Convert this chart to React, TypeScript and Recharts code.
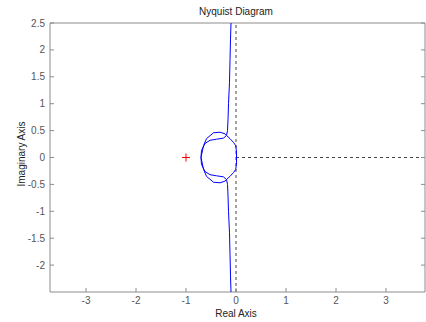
import React from 'react';
import {
  ScatterChart,
  Scatter,
  XAxis,
  YAxis,
  ReferenceLine,
} from 'recharts';

const realTicks = [-3, -2, -1, 0, 1, 2, 3];
const imagTicks = [-2, -1.5, -1, -0.5, 0, 0.5, 1, 1.5, 2, 2.5];

const topBranchRe = [-0.1, -0.11, -0.12, -0.13, -0.15, -0.16, -0.17, -0.19];
const topBranchIm = [2.5, 2.2, 1.8, 1.4, 1.0, 0.7, 0.5, 0.41];
const bottomBranchRe = [-0.1, -0.11, -0.12, -0.13, -0.15, -0.16, -0.17, -0.19];
const bottomBranchIm = [-2.5, -2.2, -1.8, -1.4, -1.0, -0.7, -0.5, -0.41];

const rightSegRe = [-0.19, -0.12, -0.05, -0.005, 0.01, 0.01, -0.005, -0.05, -0.12, -0.19];
const rightSegIm = [0.41, 0.35, 0.28, 0.22, 0.1, -0.1, -0.22, -0.28, -0.35, -0.41];

const upperOuterRe = [-0.19, -0.22, -0.32, -0.45, -0.59, -0.65, -0.7];
const upperOuterIm = [0.41, 0.44, 0.47, 0.46, 0.35, 0.22, 0];
const upperInnerRe = [-0.7, -0.69, -0.62, -0.52, -0.39, -0.25, -0.19];
const upperInnerIm = [0, 0.13, 0.26, 0.32, 0.34, 0.36, 0.41];

const lowerOuterRe = [-0.19, -0.22, -0.32, -0.45, -0.59, -0.65, -0.7];
const lowerOuterIm = [-0.41, -0.44, -0.47, -0.46, -0.35, -0.22, 0];
const lowerInnerRe = [-0.7, -0.69, -0.62, -0.52, -0.39, -0.25, -0.19];
const lowerInnerIm = [0, -0.13, -0.26, -0.32, -0.34, -0.36, -0.41];

const criticalRe = [-1];
const criticalIm = [0];

const toPts = (re: number[], im: number[]) => re.map((r, i) => ({ re: r, im: im[i] }));

const curves = [
  toPts(topBranchRe, topBranchIm),
  toPts(bottomBranchRe, bottomBranchIm),
  toPts(rightSegRe, rightSegIm),
  toPts(upperOuterRe, upperOuterIm),
  toPts(upperInnerRe, upperInnerIm),
  toPts(lowerOuterRe, lowerOuterIm),
  toPts(lowerInnerRe, lowerInnerIm),
];

const FONT = '"Liberation Sans", Arial, sans-serif';
const FRAME = '#8c8c8c';
const TICK_TXT = '#555';

const BottomTick = (p: any) => (
  <g>
    <line x1={p.x} y1={p.y} x2={p.x} y2={p.y - 4} stroke={FRAME} />
    <text x={p.x} y={p.y + 12} textAnchor="middle" fontSize={10} fontFamily={FONT} fill={TICK_TXT}>
      {p.payload.value}
    </text>
  </g>
);
const LeftTick = (p: any) => (
  <g>
    <line x1={p.x} y1={p.y} x2={p.x + 4} y2={p.y} stroke={FRAME} />
    <text x={p.x - 5} y={p.y + 3.5} textAnchor="end" fontSize={10} fontFamily={FONT} fill={TICK_TXT}>
      {p.payload.value}
    </text>
  </g>
);
const TopTick = (p: any) => <line x1={p.x} y1={p.y} x2={p.x} y2={p.y + 4} stroke={FRAME} />;
const RightTick = (p: any) => <line x1={p.x} y1={p.y} x2={p.x - 4} y2={p.y} stroke={FRAME} />;

const Cross = (p: any) => (
  <g>
    <line x1={p.cx - 4} y1={p.cy} x2={p.cx + 4} y2={p.cy} stroke="#ff0000" />
    <line x1={p.cx} y1={p.cy - 4} x2={p.cx} y2={p.cy + 4} stroke="#ff0000" />
  </g>
);

const xDomain = [-3.72, 3.78];
const yDomain = [-2.5, 2.5];

export default function App() {
  return (
    <div style={{ position: 'absolute', left: 0, top: 0, width: 426, height: 322, background: '#fff', fontFamily: FONT }}>
      <ScatterChart width={426} height={322} margin={{ top: 22, right: 0, bottom: 29, left: 49 }}>
        <XAxis
          dataKey="re"
          type="number"
          domain={xDomain}
          ticks={realTicks}
          allowDataOverflow
          height={1}
          tickSize={0}
          tickMargin={0}
          stroke={FRAME}
          tick={<BottomTick />}
        />
        <XAxis
          xAxisId="top"
          orientation="top"
          type="number"
          domain={xDomain}
          ticks={realTicks}
          allowDataOverflow
          height={1}
          tickSize={0}
          tickMargin={0}
          stroke={FRAME}
          tick={<TopTick />}
        />
        <YAxis
          dataKey="im"
          type="number"
          domain={yDomain}
          ticks={imagTicks}
          allowDataOverflow
          width={1}
          tickSize={0}
          tickMargin={0}
          stroke={FRAME}
          tick={<LeftTick />}
        />
        <YAxis
          yAxisId="right"
          orientation="right"
          type="number"
          domain={yDomain}
          ticks={imagTicks}
          allowDataOverflow
          width={1}
          tickSize={0}
          tickMargin={0}
          stroke={FRAME}
          tick={<RightTick />}
        />
        <ReferenceLine x={0} stroke="#444" strokeDasharray="3 3" />
        <ReferenceLine
          segment={[{ x: 0, y: 0 }, { x: xDomain[1], y: 0 }]}
          stroke="#444"
          strokeDasharray="3 3"
        />
        {curves.map((pts, i) => (
          <Scatter
            key={i}
            data={pts}
            line={{ stroke: '#0000ff', strokeWidth: 1 }}
            lineType="joint"
            shape={() => <g />}
            isAnimationActive={false}
          />
        ))}
        <Scatter data={toPts(criticalRe, criticalIm)} shape={<Cross />} isAnimationActive={false} />
      </ScatterChart>
      <div style={{ position: 'absolute', left: 0, width: 426, top: 6, textAlign: 'center', fontSize: 10, color: '#222', marginLeft: 23 }}>
        Nyquist Diagram
      </div>
      <div style={{ position: 'absolute', left: 0, width: 426, top: 308, textAlign: 'center', fontSize: 10, color: '#222', marginLeft: 23 }}>
        Real Axis
      </div>
      <div
        style={{
          position: 'absolute',
          left: 21,
          top: 154,
          fontSize: 10,
          color: '#222',
          whiteSpace: 'nowrap',
          transform: 'translate(-50%, -50%) rotate(-90deg)',
        }}
      >
        Imaginary Axis
      </div>
    </div>
  );
}
